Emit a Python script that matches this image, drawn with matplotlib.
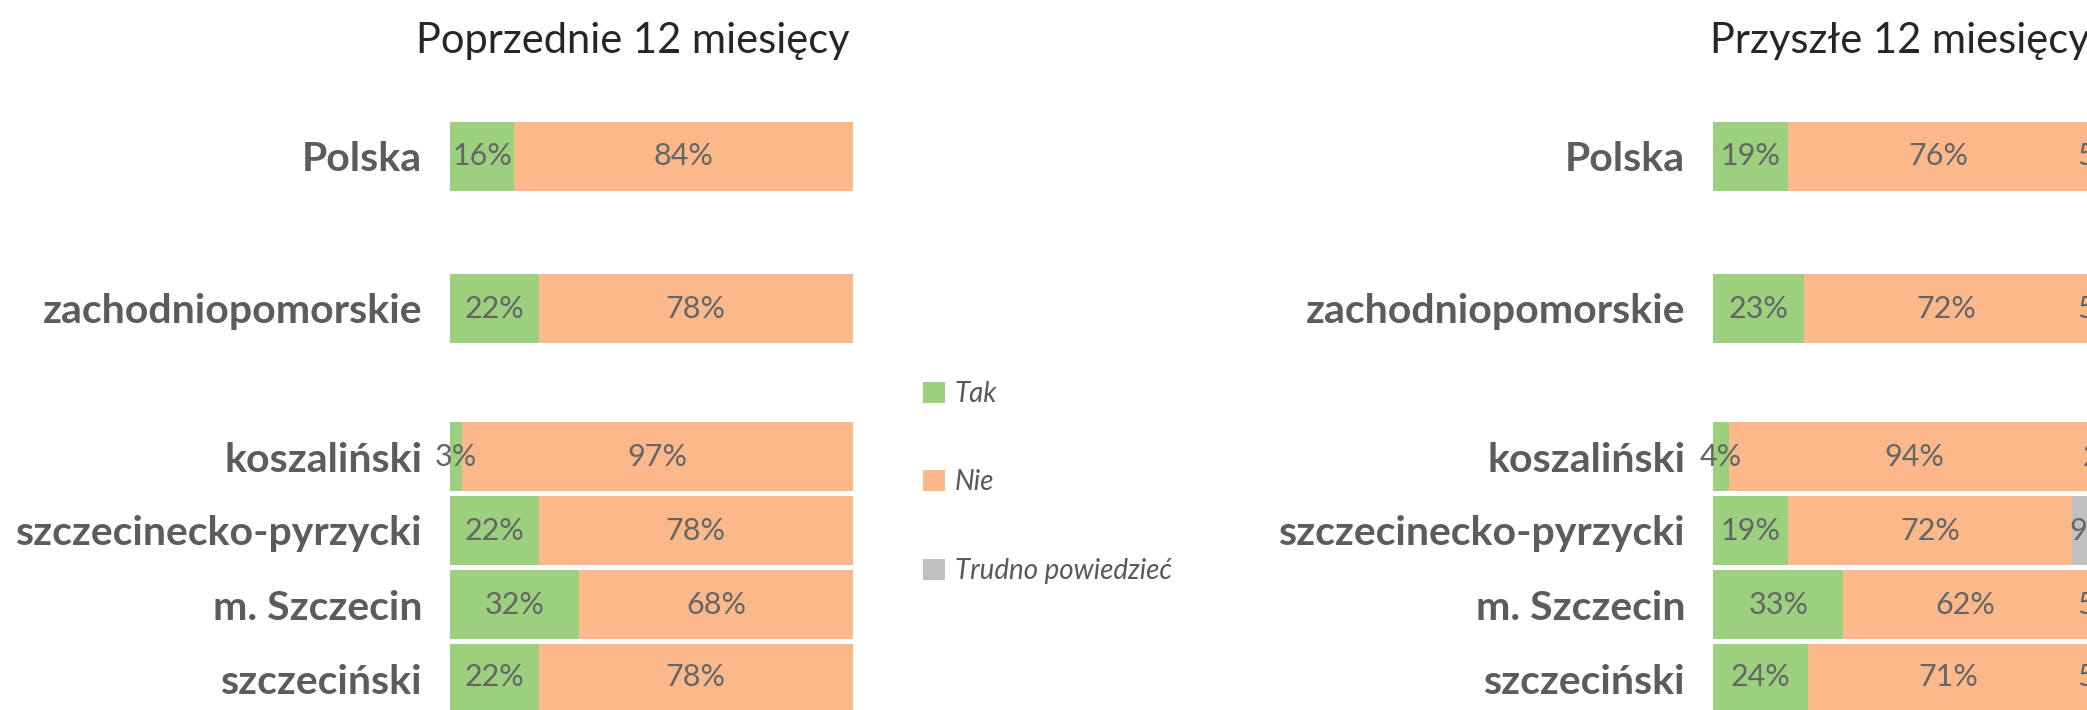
import matplotlib
matplotlib.use("Agg")
import matplotlib.pyplot as plt
from matplotlib.patches import Patch

# --- data -------------------------------------------------------------
regions = ["Polska", "zachodniopomorskie", "koszaliński",
           "szczecinecko-pyrzycki", "m. Szczecin", "szczeciński"]

past_tak = [16, 22, 3, 22, 32, 22]
past_nie = [84, 78, 97, 78, 68, 78]
past_trudno = [0, 0, 0, 0, 0, 0]

next_tak = [19, 23, 4, 19, 33, 24]
next_nie = [76, 72, 94, 72, 62, 71]
next_trudno = [5, 5, 2, 9, 5, 5]

series_names = ["Tak", "Nie", "Trudno powiedzieć"]
panel_titles = ["Poprzednie 12 miesięcy", "Przyszłe 12 miesięcy"]

# --- styling / layout ---------------------------------------------------
colors = ["#9dd07e", "#fbb98b", "#c0c0c0"]
label_color = "#5c5c5c"
value_color = "#656565"

W, H = 2087, 710
DPI = 100
row_pos = [-4.06, -2.0, 0, 1, 2, 3]      # vertical slots, in row pitches
pitch_px = 74                             # pixel height of one row pitch
anchor_px = 456.5                         # pixel y of slot 0
bar_h = 69 / pitch_px

plt.rcParams["font.family"] = ["Lato", "DejaVu Sans"]

fig = plt.figure(figsize=(W / DPI, H / DPI), dpi=DPI, facecolor="white")


def draw_panel(x0_px, width_px, values, title, title_x_px):
    ax = fig.add_axes([x0_px / W, 0, width_px / W, 1])
    ax.set_facecolor("none")
    left = [0] * len(regions)
    for name, vals, col in zip(series_names, values, colors):
        bars = ax.barh(row_pos, vals, left=left, height=bar_h,
                       color=col, edgecolor="none", label=name)
        ax.bar_label(bars, labels=[f"{v}%" if v > 0 else "" for v in vals],
                     label_type="center", fontsize=22, color=value_color)
        left = [a + b for a, b in zip(left, vals)]
    ax.set_xlim(0, 100)
    ax.set_ylim((H - anchor_px) / pitch_px, -anchor_px / pitch_px)
    ax.set_yticks(row_pos, regions)
    ax.tick_params(axis="y", length=0, pad=20, labelsize=29.5,
                   labelcolor=label_color)
    for t in ax.get_yticklabels():
        t.set_fontweight("bold")
    ax.set_xticks([])
    for s in ax.spines.values():
        s.set_visible(False)
    fig.text(title_x_px / W, 1 - 41 / H, title, ha="left", va="center",
             fontsize=30, fontweight="normal", color="#262626")
    return ax


draw_panel(450, 403, [past_tak, past_nie, past_trudno], panel_titles[0], 416)
draw_panel(1713, 395, [next_tak, next_nie, next_trudno], panel_titles[1], 1710)

handles = [Patch(facecolor=c, edgecolor="none") for c in colors]
fig.legend(handles, series_names, loc="upper left",
           bbox_to_anchor=(923 / W, 1 - 381 / H), frameon=False,
           prop=dict(family="Lato", style="italic", size=20),
           labelcolor="#595959", handlelength=0.8, handleheight=0.8,
           handletextpad=0.35, labelspacing=2.25, borderpad=0,
           borderaxespad=0)

fig.savefig("out.png", dpi=DPI, facecolor="white")
